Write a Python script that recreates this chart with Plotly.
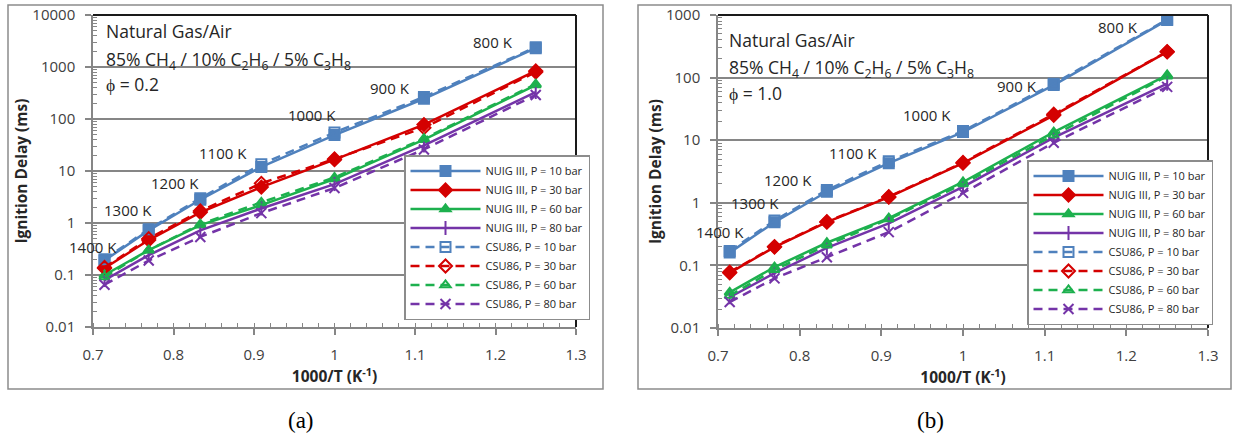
import plotly.graph_objects as go

# ---------------- data ----------------
temps_K = [1400, 1300, 1200, 1100, 1000, 900, 800]
inv_T = [round(1000.0 / t, 4) for t in temps_K]
temp_labels = ["1400 K", "1300 K", "1200 K", "1100 K", "1000 K", "900 K", "800 K"]

# Panel (a): phi = 0.2  (ignition delay, ms)
a_nuig_10 = [0.19, 0.72, 2.8, 12.0, 49.0, 245.0, 2300.0]
a_nuig_30 = [0.135, 0.47, 1.6, 4.9, 16.5, 78.0, 840.0]
a_nuig_60 = [0.10, 0.30, 0.91, 2.2, 7.0, 40.0, 450.0]
a_nuig_80 = [0.08, 0.24, 0.72, 1.9, 5.6, 31.0, 330.0]
a_csu_10 = [0.20, 0.76, 3.0, 13.5, 55.0, 265.0, 2400.0]
a_csu_30 = [0.14, 0.50, 1.7, 5.8, 17.0, 68.0, 800.0]
a_csu_60 = [0.092, 0.30, 0.95, 2.5, 7.5, 42.0, 470.0]
a_csu_80 = [0.065, 0.19, 0.54, 1.55, 4.7, 26.0, 290.0]

# Panel (b): phi = 1.0
b_nuig_10 = [0.16, 0.49, 1.5, 4.3, 13.5, 76.0, 830.0]
b_nuig_30 = [0.076, 0.196, 0.49, 1.23, 4.3, 25.0, 257.0]
b_nuig_60 = [0.037, 0.094, 0.23, 0.57, 2.15, 13.5, 110.0]
b_nuig_80 = [0.031, 0.075, 0.19, 0.47, 1.8, 11.0, 80.0]
b_csu_10 = [0.17, 0.52, 1.6, 4.6, 14.0, 80.0, 850.0]
b_csu_30 = [0.078, 0.20, 0.50, 1.25, 4.4, 26.0, 260.0]
b_csu_60 = [0.033, 0.085, 0.21, 0.55, 2.0, 12.0, 105.0]
b_csu_80 = [0.026, 0.062, 0.135, 0.34, 1.44, 9.1, 71.0]

series_names = ["NUIG III, P = 10 bar", "NUIG III, P = 30 bar", "NUIG III, P = 60 bar", "NUIG III, P = 80 bar",
                "CSU86, P = 10 bar", "CSU86, P = 30 bar", "CSU86, P = 60 bar", "CSU86, P = 80 bar"]

# log10 ranges of the two y axes (0.01..10000 and 0.01..1000 ms)
y_range_a = [-2, 4]
y_range_b = [-2, 3]

# label positions (x in 1000/T, y as log10 of delay) for temperature tags
a_tag_x = [0.7005, 0.7435, 0.802, 0.8617, 0.972, 1.069, 1.1975]
a_tag_y = [-0.462, 0.25, 0.769, 1.346, 2.077, 2.596, 3.48]
b_tag_x = [0.7024, 0.7453, 0.7857, 0.8652, 0.9558, 1.066, 1.1896]
b_tag_y = [-0.4665, -0.003, 0.364, 0.7955, 1.403, 1.866, 2.808]

# ---------------- style ----------------
FONT = "Open Sans"
BLUE = "#4F81BD"
RED = "#D40000"
GREEN = "#1DB04E"
PURPLE = "#7434A8"
colors = [BLUE, RED, GREEN, PURPLE, BLUE, RED, GREEN, PURPLE]
symbols = ["square", "diamond", "triangle-up", "line-ns",
           "square-open", "diamond-open", "triangle-up-open", "x-thin"]
sizes = [10, 10, 9, 10, 10, 10, 9, 10]
dashes = ["solid"] * 4 + ["9px,6px"] * 4

fig = go.Figure()

panels = [
    ("x", "y", "legend",
     [a_nuig_10, a_nuig_30, a_nuig_60, a_nuig_80, a_csu_10, a_csu_30, a_csu_60, a_csu_80]),
    ("x2", "y2", "legend2",
     [b_nuig_10, b_nuig_30, b_nuig_60, b_nuig_80, b_csu_10, b_csu_30, b_csu_60, b_csu_80]),
]
for xa, ya, lg, data in panels:
    for i, vals in enumerate(data):
        fig.add_trace(go.Scatter(
            x=inv_T, y=vals, xaxis=xa, yaxis=ya, legend=lg,
            name=series_names[i], mode="lines+markers",
            line=dict(color=colors[i], width=2.5, dash=dashes[i]),
            marker=dict(symbol=symbols[i], size=sizes[i], color=colors[i],
                        line=dict(color=colors[i], width=2)),
        ))

AX_GRAY = "#868686"
TICK_FONT = dict(family=FONT, size=15, color="#404040")
TITLE_FONT = dict(family=FONT, size=15.5, color="#262626")

def xaxis_cfg(domain, anchor):
    return dict(domain=domain, anchor=anchor, range=[0.7, 1.3], dtick=0.1, tick0=0.7,
                automargin=False,
                showgrid=False, zeroline=False, showline=True, linecolor=AX_GRAY, linewidth=1.5,
                ticks="outside", ticklen=6, tickcolor=AX_GRAY, tickwidth=1.5,
                ticklabelstandoff=7, tickfont=TICK_FONT,
                minor=dict(dtick=0.02, tick0=0.7, ticks="inside", ticklen=4, tickcolor=AX_GRAY, tickwidth=1),
                title=dict(text="<b>1000/T (K<sup>-1</sup>)</b>", font=TITLE_FONT, standoff=8))

def yaxis_cfg(domain, anchor, rng):
    return dict(domain=domain, anchor=anchor, type="log", range=rng,
                dtick=1, tickformat="~g", automargin=False,
                showgrid=True, gridcolor=AX_GRAY, gridwidth=1.5, zeroline=False,
                showline=True, linecolor=AX_GRAY, linewidth=1.5,
                ticks="outside", ticklen=6, tickcolor=AX_GRAY, tickwidth=1.5,
                ticklabelstandoff=7, tickfont=TICK_FONT,
                minor=dict(dtick="D1", ticks="inside", ticklen=4, tickcolor=AX_GRAY, tickwidth=1, showgrid=False),
                title=dict(text="<b>Ignition Delay (ms)</b>", font=TITLE_FONT, standoff=1))

W, H = 1235, 438
xa_dom = [93 / W, 576 / W]
xb_dom = [718 / W, 1208 / W]
ya_dom = [1 - 327 / H, 1 - 15 / H]
yb_dom = [1 - 328 / H, 1 - 15 / H]

legend_cfg = dict(font=dict(family=FONT, size=11, color="#262626"), bgcolor="white",
                  bordercolor="#8C8C8C", borderwidth=1.5, xanchor="left", yanchor="top",
                  itemwidth=70, tracegroupgap=0)

fig.update_layout(
    width=W, height=H, margin=dict(l=0, r=0, t=0, b=0, autoexpand=False),
    paper_bgcolor="white", plot_bgcolor="white",
    font=dict(family=FONT, color="#262626"),
    xaxis=xaxis_cfg(xa_dom, "y"),
    yaxis=yaxis_cfg(ya_dom, "x", y_range_a),
    xaxis2=xaxis_cfg(xb_dom, "y2"),
    yaxis2=yaxis_cfg(yb_dom, "x2", y_range_b),
    legend=dict(x=404 / W, y=1 - 155 / H, **legend_cfg),
    legend2=dict(x=1027 / W, y=1 - 160 / H, **legend_cfg),
)

shapes = []
# outer panel frames
for x0, x1 in [(8, 603), (638, 1231)]:
    shapes.append(dict(type="rect", xref="paper", yref="paper",
                       x0=x0 / W, x1=x1 / W, y0=1 - 389 / H, y1=1 - 5 / H,
                       line=dict(color="#8C8C8C", width=1.5), layer="below"))
# plot-area top and right borders (black)
for xr, yr in [("x domain", "y domain"), ("x2 domain", "y2 domain")]:
    shapes.append(dict(type="line", xref=xr, yref=yr, x0=0, x1=1, y0=1, y1=1,
                       line=dict(color="#1A1A1A", width=2)))
    shapes.append(dict(type="line", xref=xr, yref=yr, x0=1, x1=1, y0=0, y1=1,
                       line=dict(color="#1A1A1A", width=2)))
fig.update_layout(shapes=shapes)

ann = []
TAG_FONT = dict(family=FONT, size=15, color="#262626")
for lbl, tx, ty in zip(temp_labels, a_tag_x, a_tag_y):
    ann.append(dict(text=lbl, x=tx, y=ty, xref="x", yref="y", showarrow=False, font=TAG_FONT,
                    xanchor="center", yanchor="middle"))
for lbl, tx, ty in zip(temp_labels, b_tag_x, b_tag_y):
    ann.append(dict(text=lbl, x=tx, y=ty, xref="x2", yref="y2", showarrow=False, font=TAG_FONT,
                    xanchor="center", yanchor="middle"))

HDR_FONT = dict(family=FONT, size=17.5, color="#262626")
mix = "85% CH<sub>4</sub> / 10% C<sub>2</sub>H<sub>6</sub> / 5% C<sub>3</sub>H<sub>8</sub>"
for x0, ys, phi in [(104, (31, 61, 84), "ϕ = 0.2"), (727, (40, 69, 93), "ϕ = 1.0")]:
    for txt, yy in zip(["Natural Gas/Air", mix, phi], ys):
        ann.append(dict(text=txt, x=x0 / W, y=1 - yy / H, xref="paper", yref="paper",
                        xanchor="left", yanchor="middle", showarrow=False, font=HDR_FONT))

for txt, xx in [("(a)", 301), ("(b)", 930)]:
    ann.append(dict(text=txt, x=xx / W, y=1 - 420 / H, xref="paper", yref="paper",
                    xanchor="center", yanchor="middle", showarrow=False,
                    font=dict(family="Liberation Serif", size=23, color="black")))
fig.update_layout(annotations=ann)

fig.write_html("out.html")
